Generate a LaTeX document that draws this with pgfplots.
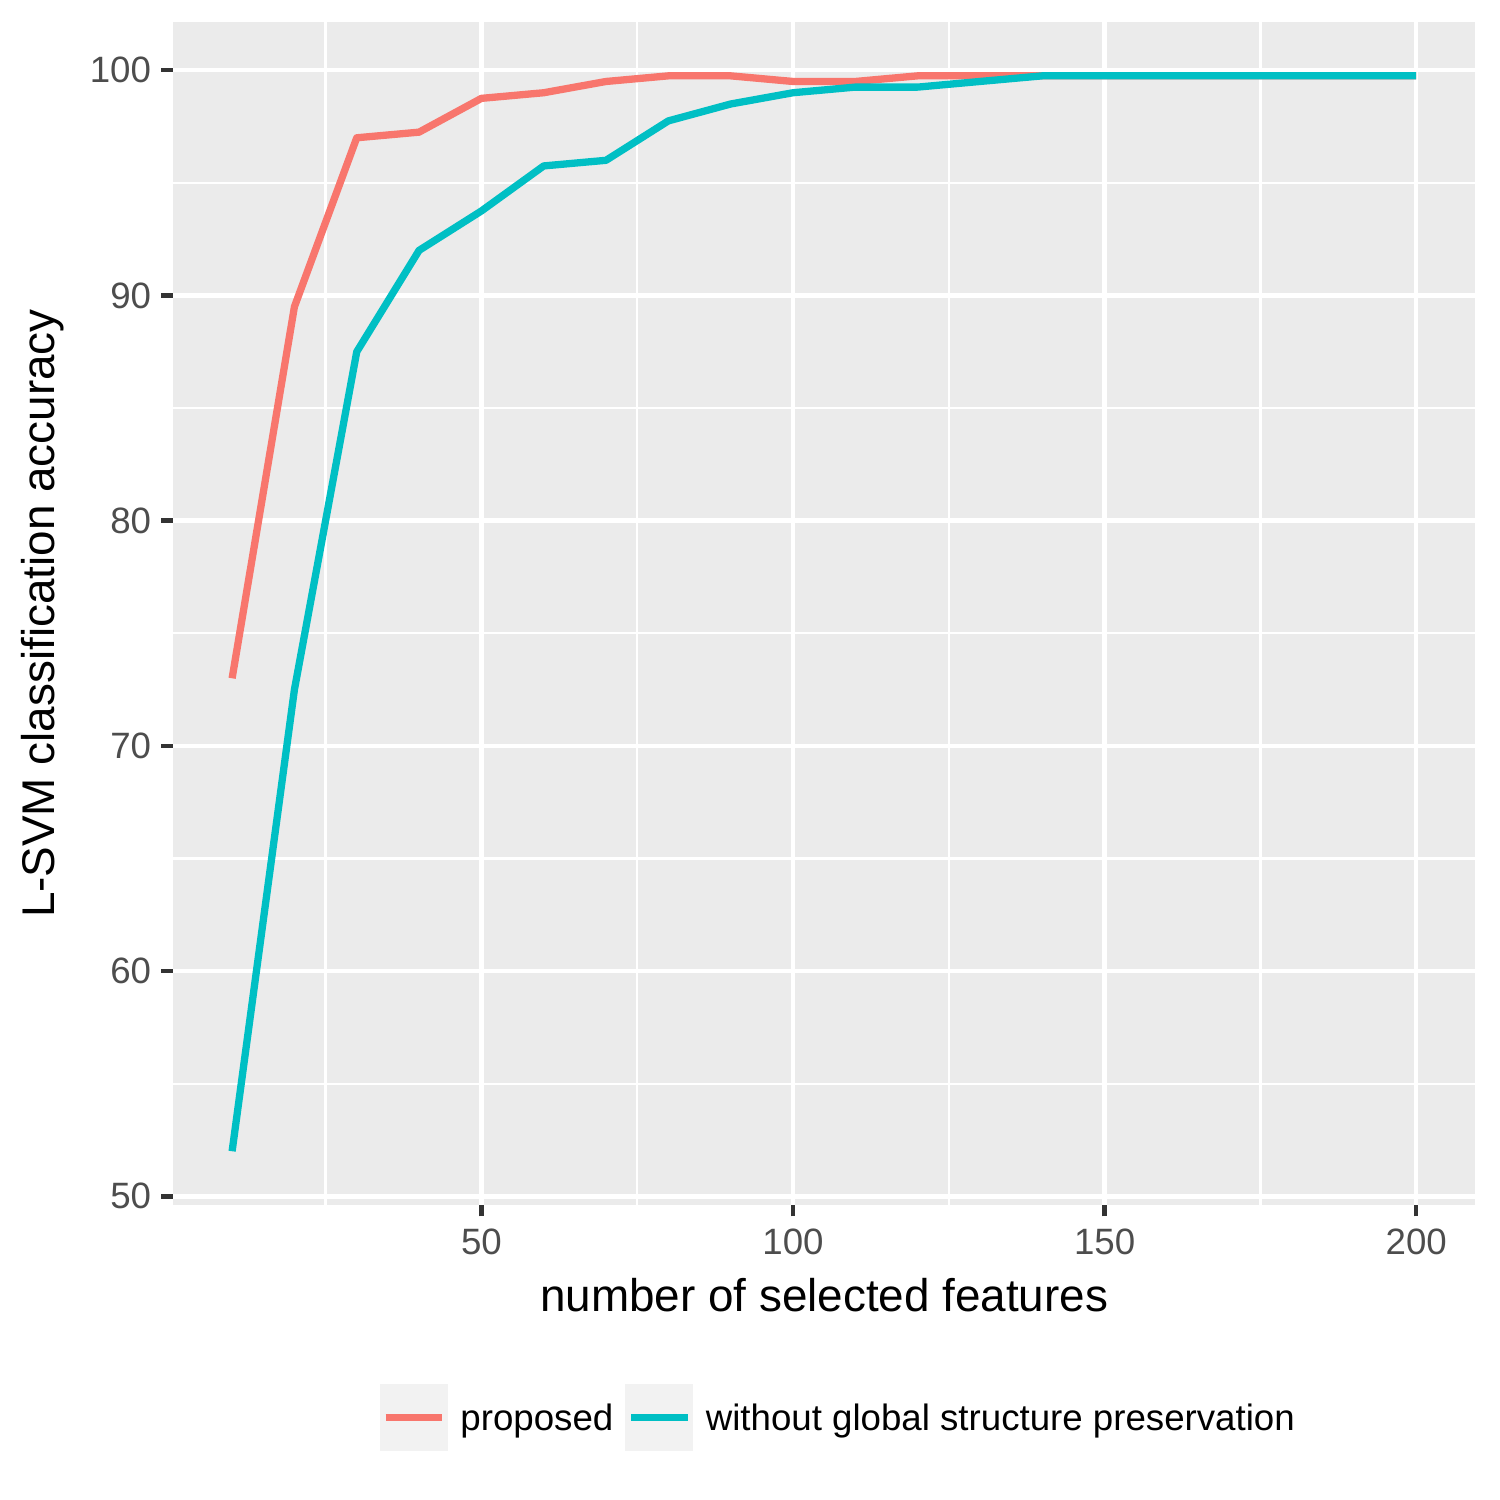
\documentclass[border=0pt]{standalone}
\usepackage{fontspec}
\setmainfont{Liberation Sans}
\usepackage{pgfplots}
\pgfplotsset{compat=1.18}
\definecolor{panelbg}{HTML}{EBEBEB}
\definecolor{keybg}{HTML}{F2F2F2}
\definecolor{tickc}{HTML}{333333}
\definecolor{ticklab}{HTML}{4D4D4D}
\definecolor{gred}{HTML}{F8766D}
\definecolor{gcyan}{HTML}{00BFC4}
\begin{document}
\begin{tikzpicture}
\useasboundingbox (0,0) rectangle (360pt,360pt);
\begin{axis}[
  at={(41.5pt,70.8pt)}, anchor=south west,
  scale only axis, width=312.6pt, height=283.9pt,
  xmin=0.5, xmax=209.5, ymin=49.6125, ymax=102.1375,
  axis background/.style={fill=panelbg},
  axis line style={draw=none},
  xtick={50,100,150,200}, ytick={50,60,70,80,90,100},
  minor xtick={25,75,125,175}, minor ytick={55,65,75,85,95},
  grid=both,
  major grid style={white, line width=1.07pt},
  minor grid style={white, line width=0.53pt},
  tick align=outside, major tick length=2.75pt, minor tick length=0pt,
  every tick/.style={color=tickc, line width=1.07pt},
  xtick pos=left, ytick pos=left,
  /pgf/number format/assume math mode=true,
  ticklabel style={font=\fontsize{8.8}{10}\selectfont, text=ticklab, inner sep=0pt},
  yticklabel style={anchor=east, xshift=-2.3pt},
  xticklabel style={anchor=north, yshift=-2.75pt},
  xlabel={number of selected features},
  ylabel={L-SVM classification accuracy},
  label style={font=\fontsize{11}{13}\selectfont},
  xlabel style={at={(axis description cs:0.5,-0.0902)}, anchor=base},
  ylabel style={at={(axis description cs:-0.0906,0.5)}, anchor=base},
  legend columns=2,
  legend style={at={(axis description cs:0.159,-0.2079)}, anchor=south west,
    draw=none, fill=none, inner sep=0pt, outer sep=0pt,
    font=\fontsize{8.8}{10}\selectfont,
    cells={anchor=base west},
    nodes={inner sep=0pt},
    /tikz/every odd column/.append style={column sep=3.0pt},
    /tikz/every even column/.append style={column sep=2.9pt}},
  legend image code/.code={
    \path[fill=keybg, draw=none] (0pt,-4.95pt) rectangle (16.3pt,11.15pt);
    \draw[#1,line width=1.75pt] (1.35pt,3.1pt) -- (14.95pt,3.1pt);
  },
]
\addplot[gred, line width=1.75pt, line join=round] coordinates {
(10,73.0) (20,89.5) (30,97.0) (40,97.25) (50,98.75) (60,99.0) (70,99.5)
(80,99.75) (90,99.75) (100,99.5) (110,99.5) (120,99.75) (130,99.75)
(140,99.75) (150,99.75) (160,99.75) (170,99.75) (180,99.75) (190,99.75) (200,99.75)};
\addlegendentry{proposed}
\addplot[gcyan, line width=1.75pt, line join=round] coordinates {
(10,52.0) (20,72.5) (30,87.5) (40,92.0) (50,93.75) (60,95.75) (70,96.0)
(80,97.75) (90,98.5) (100,99.0) (110,99.25) (120,99.25) (130,99.5)
(140,99.75) (150,99.75) (160,99.75) (170,99.75) (180,99.75) (190,99.75) (200,99.75)};
\addlegendentry{without global structure preservation}
\end{axis}
\end{tikzpicture}
\end{document}
